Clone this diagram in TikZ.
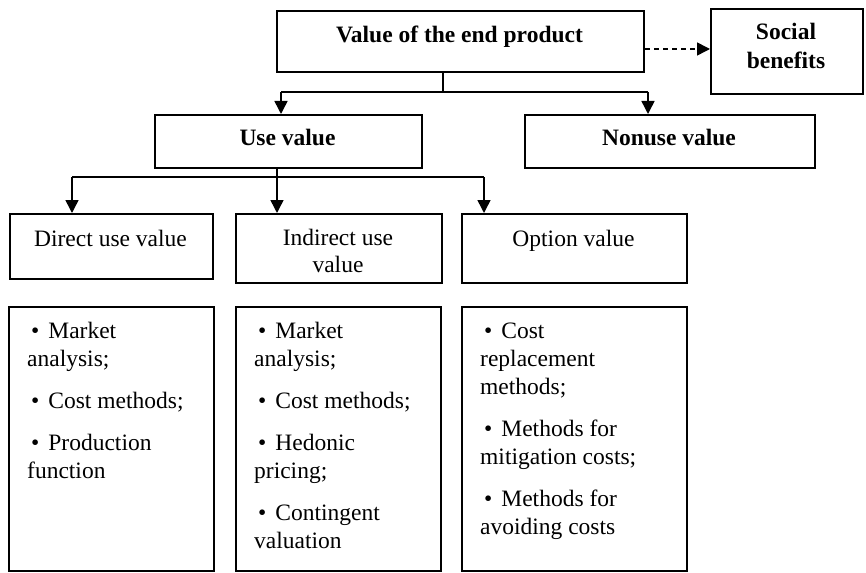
\documentclass[tikz,border=0pt]{standalone}
\usepackage{fontspec}
\setmainfont{Liberation Serif}
\usetikzlibrary{arrows.meta}
\begin{document}
\begin{tikzpicture}[x=1pt,y=-1pt,
  box/.style={draw,line width=2pt,inner sep=0pt,anchor=north west},
  txt/.style={inner sep=0pt,anchor=base,font=\fontsize{23.5}{28}\selectfont},
  btxt/.style={txt,font=\fontsize{23.5}{28}\selectfont\bfseries},
  ltxt/.style={inner sep=0pt,anchor=base west,font=\fontsize{23.5}{28}\selectfont},
  link/.style={line width=1.5pt},
  tip/.style={-{Triangle[length=13pt,width=13pt]}},
  arr/.style={link,tip}]
\useasboundingbox (0,0) rectangle (866,572);
\newcommand{\bul}{\hspace*{4pt}\textbullet\hspace{9pt}}

% boxes
\node[box,minimum width=367pt,minimum height=61pt] (top) at (276,10) {};
\node[box,minimum width=152pt,minimum height=85pt] (soc) at (710,8) {};
\node[box,minimum width=267pt,minimum height=53pt] (use) at (154,114) {};
\node[box,minimum width=290pt,minimum height=53pt] (non) at (524,114) {};
\node[box,minimum width=203pt,minimum height=65pt] (dir) at (9,213) {};
\node[box,minimum width=206pt,minimum height=69pt] (ind) at (235,213) {};
\node[box,minimum width=225pt,minimum height=69pt] (opt) at (461,213) {};
\node[box,minimum width=205pt,minimum height=264pt] (m1) at (8,306) {};
\node[box,minimum width=205pt,minimum height=264pt] (m2) at (235,306) {};
\node[box,minimum width=225pt,minimum height=264pt] (m3) at (461,306) {};

% headings
\node[btxt] (ttop) at (459.5,43) {Value of the end product};
\node[btxt] (tsoc1) at (786,40) {Social};
\node[btxt] (tsoc2) at (786,69) {benefits};
\node[btxt] (tuse) at (287.5,146) {Use value};
\node[btxt] (tnon) at (669,146) {Nonuse value};
\node[txt] (tdir) at (110.5,246) {Direct use value};
\node[txt] (tind1) at (338,245) {Indirect use};
\node[txt] (tind2) at (338,272) {value};
\node[txt] (topt) at (573.5,246) {Option value};

% method lists
\node[ltxt] (l1) at (27,338) {\parbox[t]{190pt}{\raggedright
  \bul Market\\analysis;\\[14pt]\bul Cost methods;\\[14pt]\bul Production\\function}};
\node[ltxt] (l2) at (254,338) {\parbox[t]{190pt}{\raggedright
  \bul Market\\analysis;\\[14pt]\bul Cost methods;\\[14pt]\bul Hedonic\\pricing;\\[14pt]\bul Contingent\\valuation}};
\node[ltxt] (l3) at (480,338) {\parbox[t]{200pt}{\raggedright
  \bul Cost\\replacement\\methods;\\[14pt]\bul Methods for\\mitigation costs;\\[14pt]\bul Methods for\\avoiding costs}};

% connectors from the end product
\draw[link,dash pattern=on 5pt off 4pt,tip]
  (top.east |- 0,49) -- (soc.west |- 0,49);
\coordinate (j0) at (443,92);
\coordinate (ja) at (281,92);
\coordinate (jb) at (648,92);
\draw[link] (top.south -| j0) -- (j0);
\draw[link] (ja) -- (jb);
\draw[arr] (ja) -- (ja |- use.north);
\draw[arr] (jb) -- (jb |- non.north);

% connectors from use value
\coordinate (k0) at (277,177);
\coordinate (ka) at (72,177);
\coordinate (kb) at (484,177);
\draw[arr] (use.south -| k0) -- (k0 |- ind.north);
\draw[link] (ka) -- (kb);
\draw[arr] (ka) -- (ka |- dir.north);
\draw[arr] (kb) -- (kb |- opt.north);
\end{tikzpicture}
\end{document}
